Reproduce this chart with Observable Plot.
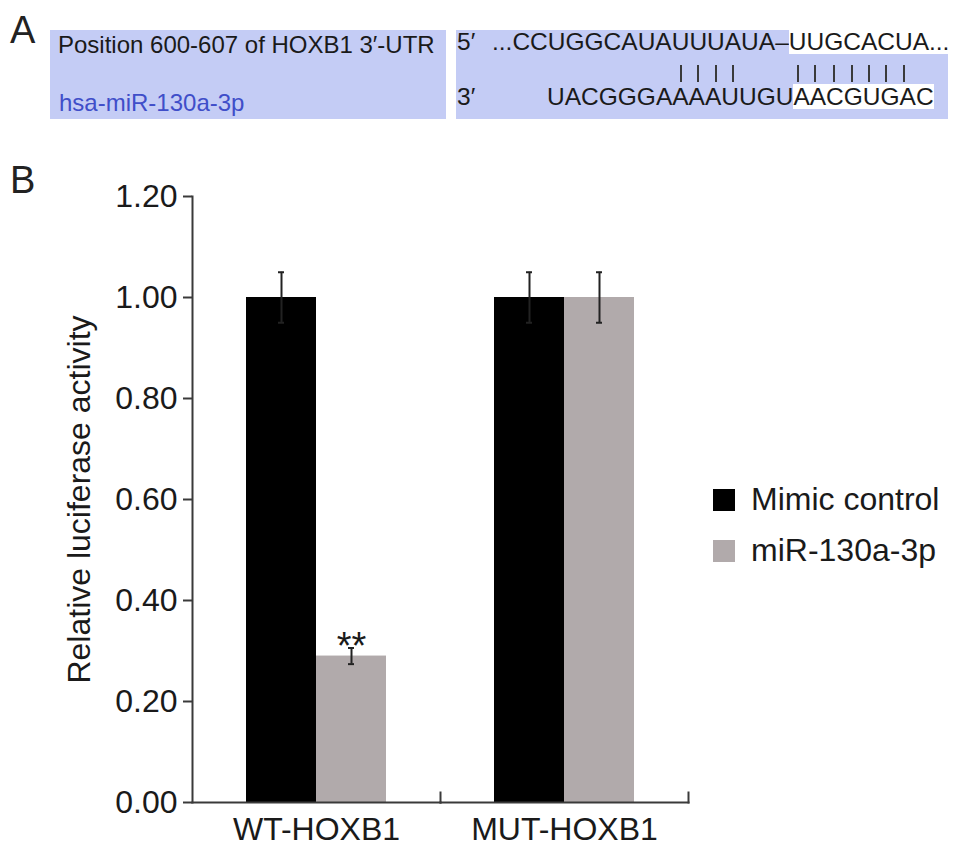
<!DOCTYPE html>
<html>
<head>
<meta charset="utf-8">
<script src="https://cdn.jsdelivr.net/npm/d3@7"></script>
<script src="https://cdn.jsdelivr.net/npm/@observablehq/plot@0.6"></script>
<style>
html, body { margin: 0; padding: 0; background: #fff; }
body { width: 969px; height: 853px; position: relative; overflow: hidden;
  font-family: "Liberation Sans", Arial, Helvetica, sans-serif; color: #1a1a1a; }
.abs { position: absolute; white-space: pre; }
.panel-label { font-size: 38px; line-height: 38px; color: #222; }
.box { position: absolute; background: #c4ccf5; }
.t24 { font-size: 24px; line-height: 24px; }
.blue { color: #3f4ec9; }
.seq { font-size: 24.5px; line-height: 25px; font-kerning: none; }
.hl { background: #fff; display: inline-block; height: 25px; }
.bar { position: absolute; width: 2px; height: 17px; background: #3a3a3a; }
#chart { position: absolute; left: 0; top: 140px; }
#legend { position: absolute; left: 713px; top: 481px; }
#legend .lg-swatch { padding-bottom: 14px !important; }
#legend .lg-swatch svg { margin-right: 16px !important; }
#legend .lg-swatch-label, #legend .lg-swatch { line-height: 37px; }
</style>
</head>
<body>
<!-- Panel A: sequence alignment -->
<div class="abs panel-label" style="left:10px;top:11px;">A</div>
<div class="box" style="left:50px;top:30px;width:396px;height:89px;"></div>
<div class="box" style="left:456px;top:30px;width:492px;height:89px;"></div>
<div id="panelA"></div>

<div class="abs panel-label" style="left:10px;top:161px;">B</div>
<div id="chart"></div>
<div id="legend"></div>

<script>
// ---------- Panel A text ----------
const utrLabel = "Position 600-607 of HOXB1 3\u2032-UTR";
const mirLabel = "hsa-miR-130a-3p";
const utrSeqPlain = "...CCUGGCAUAUUUAUA\u2013";
const utrSeqSite = "UUGCACUA...";
const mirSeqPlain = "UACGGGAAAAUUGU";
const mirSeqSite = "AACGUGAC";
// pairing marks, one flag per character of the UTR line (1 = paired)
const pairFlags = "000000000000" + "1111" + "000" + "1111111" + "0000";

// ---------- Panel B data ----------
const groups = ["WT-HOXB1", "MUT-HOXB1"];
const series = ["Mimic control", "miR-130a-3p"];
const seriesColors = ["#000000", "#b1aaab"];
const mimicValues = [1.00, 1.00];
const mimicErrors = [0.05, 0.05];
const mirValues = [0.29, 1.00];
const mirErrors = [0.016, 0.05];
const mirSignificance = ["**", ""];
const yTicks = [0, 0.2, 0.4, 0.6, 0.8, 1.0, 1.2];
const yLabel = "Relative luciferase activity";

// ---------- build panel A ----------
const FONT = '"Liberation Sans", Arial, Helvetica, sans-serif';
const pa = document.getElementById("panelA");
function addDiv(cls, style, html) {
  const d = document.createElement("div");
  d.className = "abs " + cls;
  d.setAttribute("style", style);
  d.innerHTML = html;
  pa.appendChild(d);
  return d;
}
addDiv("t24", "left:58px;top:33px;", utrLabel);
addDiv("t24 blue", "left:59px;top:91px;", mirLabel);
addDiv("seq", "left:457px;top:29px;", "5\u2032");
addDiv("seq", "left:492px;top:29px;", utrSeqPlain + '<span class="hl">' + utrSeqSite + "</span>");
// pairing bars centred under the UTR letters (measured with the same font)
const fullUtr = utrSeqPlain + utrSeqSite;
const ctx = document.createElement("canvas").getContext("2d");
ctx.font = '24.5px "Liberation Sans", Arial, sans-serif';
let xpos = 0;
for (let i = 0; i < fullUtr.length; i++) {
  const w = ctx.measureText(fullUtr[i]).width;
  if (pairFlags[i] === "1") {
    const b = document.createElement("div");
    b.className = "bar";
    b.style.left = Math.round(492 + xpos + w / 2 - 1) + "px";
    b.style.top = "65px";
    pa.appendChild(b);
  }
  xpos += w;
}
addDiv("seq", "left:457px;top:84px;", "3\u2032");
addDiv("seq", "left:547px;top:84px;", mirSeqPlain + '<span class="hl">' + mirSeqSite + "</span>");

// ---------- build panel B ----------
const rows = [];
groups.forEach((g, i) => {
  rows.push({group: g, series: series[0], value: mimicValues[i], error: mimicErrors[i], sig: ""});
  rows.push({group: g, series: series[1], value: mirValues[i], error: mirErrors[i], sig: mirSignificance[i]});
});

const W = 700, H = 713, mT = 56, mB = 51, mL = 192, mR = 12;
const innerH = H - mT - mB;
const axisColor = "#3a3a3a";
const errColor = "#222";

const chart = Plot.plot({
  width: W, height: H,
  marginLeft: mL, marginRight: mR, marginTop: mT, marginBottom: mB,
  style: {fontFamily: FONT, fontSize: "32px", color: "#1a1a1a", background: "transparent", overflow: "visible"},
  fx: {domain: groups, padding: 0, label: null},
  x: {domain: series, paddingInner: 0, paddingOuter: 0.76, axis: null},
  y: {domain: [0, 1.2], label: yLabel},
  color: {domain: series, range: seriesColors},
  marks: [
    Plot.barY(rows, {fx: "group", x: "series", y: "value", fill: "series"}),
    Plot.ruleX(rows, {fx: "group", x: "series", y1: d => d.value - d.error, y2: d => d.value + d.error, stroke: errColor, strokeWidth: 2}),
    Plot.tickY(rows, {fx: "group", x: "series", y: d => d.value - d.error, insetLeft: 32, insetRight: 32, stroke: errColor, strokeWidth: 2}),
    Plot.tickY(rows, {fx: "group", x: "series", y: d => d.value + d.error, insetLeft: 32, insetRight: 32, stroke: errColor, strokeWidth: 2}),
    Plot.text(rows.filter(d => d.sig), {fx: "group", x: "series", y: d => d.value + d.error, text: "sig", dy: -1, fontSize: 38, fill: "#1a1a1a"}),
    Plot.axisY({ticks: yTicks, tickFormat: ".2f", tickSize: 9, tickPadding: 6, stroke: axisColor, strokeWidth: 2,
      label: yLabel, labelAnchor: "center", labelOffset: 125, labelArrow: "none", fontSize: 32}),
    Plot.axisFx({anchor: "bottom", tickSize: 0, tickPadding: 15, label: null, fontSize: 32}),
    Plot.frame({anchor: "left", facetAnchor: "left", stroke: axisColor, strokeWidth: 2}),
    Plot.frame({anchor: "bottom", stroke: axisColor, strokeWidth: 2}),
    Plot.frame({anchor: "right", insetTop: innerH - 10, stroke: axisColor, strokeWidth: 2})
  ]
});
document.getElementById("chart").appendChild(chart);

const leg = chart.legend("color", {
  className: "lg", swatchSize: 22, columns: 1,
  style: {fontSize: "32px", fontFamily: FONT, color: "#1a1a1a"}
});
document.getElementById("legend").appendChild(leg);
</script>
</body>
</html>
